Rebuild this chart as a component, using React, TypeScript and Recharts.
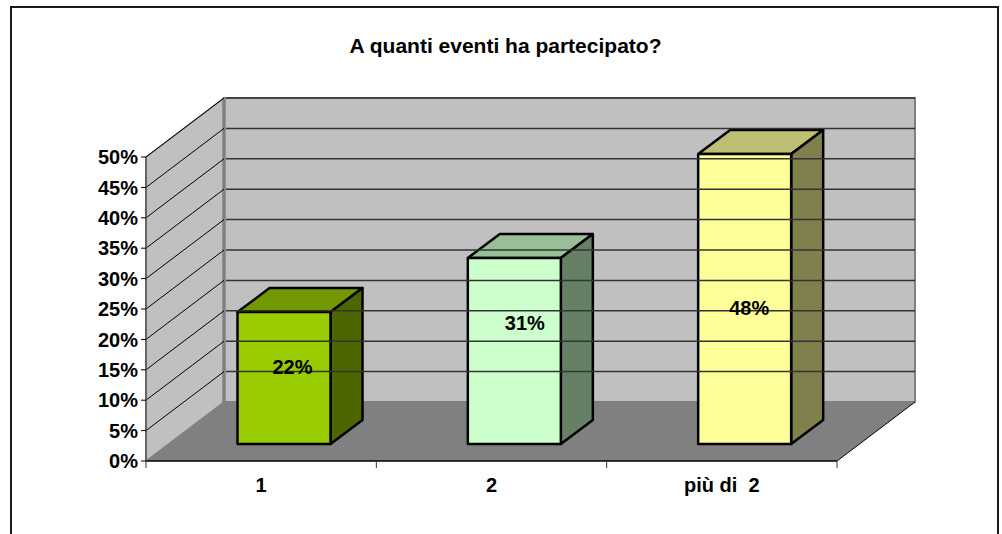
import { Bar, BarChart, LabelList, ReferenceArea, ReferenceLine, XAxis, YAxis } from 'recharts';

const categories = ['1', '2', 'più di  2'];
const shares = [21.7, 30.6, 47.7];
const yTicks = [0, 5, 10, 15, 20, 25, 30, 35, 40, 45, 50];

const FONT = '"Liberation Sans", Arial, sans-serif';
const WIDTH = 1002;
const HEIGHT = 534;

// chart plot box, the back wall sits up and to the right of it
const DEPTH_X = 78;
const DEPTH_Y = 59;
const BAND = 691 / categories.length;

// the bar stands halfway into the floor
const BAR_SHIFT_X = 22.5;
const BAR_SHIFT_Y = -17;
const BAR_DEPTH_X = 32;
const BAR_DEPTH_Y = 24;

const barColors = [
	{ front: '#99CC00', top: '#739900', side: '#4D6600' },
	{ front: '#CCFFCC', top: '#99BF99', side: '#668066' },
	{ front: '#FFFF99', top: '#BFBF73', side: '#80804D' },
];

// the labels were moved by hand in the original
const labelNudges = [
	{ dx: 31, dy: -28 },
	{ dx: 33, dy: -45 },
	{ dx: 27, dy: -8 },
];

const data = categories.map((name, i) => ({ name, share: shares[i] }));

const poly = (pts: number[][]) => pts.map((p) => p.join(',')).join(' ');

const Walls = ({ x, y, width, height }: any) => {
	const bottom = y + height;
	const right = x + width;
	return (
		<g>
			<polygon
				points={poly([
					[x, y],
					[x + DEPTH_X, y - DEPTH_Y],
					[x + DEPTH_X, bottom - DEPTH_Y],
					[x, bottom],
				])}
				fill="#C0C0C0"
				stroke="#808080"
				strokeWidth={1.5}
			/>
			<rect
				x={x + DEPTH_X}
				y={y - DEPTH_Y}
				width={width}
				height={height}
				fill="#C0C0C0"
				stroke="#808080"
				strokeWidth={2}
			/>
			<line
				x1={x + DEPTH_X}
				y1={y - DEPTH_Y}
				x2={x + DEPTH_X}
				y2={bottom - DEPTH_Y}
				stroke="#808080"
				strokeWidth={3.5}
			/>
			<polygon
				points={poly([
					[x, bottom],
					[x + DEPTH_X, bottom - DEPTH_Y],
					[right + DEPTH_X, bottom - DEPTH_Y],
					[right, bottom],
				])}
				fill="#808080"
			/>
			<line x1={right} y1={bottom} x2={right + DEPTH_X} y2={bottom - DEPTH_Y} stroke="#000" />
		</g>
	);
};

const WallGridLine = ({ x1, y1, x2, y2 }: any) => (
	<g>
		<line x1={x1} y1={y1} x2={x1 + DEPTH_X} y2={y1 - DEPTH_Y} stroke="#000" />
		<line x1={x1 + DEPTH_X + 2} y1={y1 - DEPTH_Y} x2={x2 + DEPTH_X} y2={y2 - DEPTH_Y} stroke="#333" strokeWidth={1.5} />
	</g>
);

const BoxBar = ({ x, y, width, height, index }: any) => {
	const left = x + BAR_SHIFT_X;
	const top = y + BAR_SHIFT_Y;
	const right = left + width;
	const bottom = top + height;
	const c = barColors[index];
	return (
		<g stroke="#000" strokeWidth={2.5} strokeLinejoin="round">
			<polygon
				points={poly([
					[left, top],
					[left + BAR_DEPTH_X, top - BAR_DEPTH_Y],
					[right + BAR_DEPTH_X, top - BAR_DEPTH_Y],
					[right, top],
				])}
				fill={c.top}
			/>
			<polygon
				points={poly([
					[right, top],
					[right + BAR_DEPTH_X, top - BAR_DEPTH_Y],
					[right + BAR_DEPTH_X, bottom - BAR_DEPTH_Y],
					[right, bottom],
				])}
				fill={c.side}
			/>
			<rect x={left} y={top} width={width} height={height} fill={c.front} />
		</g>
	);
};

const BarLabel = ({ x, y, width, height, value, index }: any) => (
	<text
		x={x + width / 2 + labelNudges[index].dx}
		y={y + height / 2 + labelNudges[index].dy}
		textAnchor="middle"
		dominantBaseline="central"
		fontFamily={FONT}
		fontWeight={700}
		fontSize={20}
		fill="#000"
	>
		{Math.round(value)}%
	</text>
);

const CategoryTick = ({ x, y, index }: any) => (
	<g>
		<line x1={x - BAND / 2} y1={y - 8} x2={x - BAND / 2} y2={y - 1} stroke="#333" />
		{index === categories.length - 1 && <line x1={x + BAND / 2} y1={y - 8} x2={x + BAND / 2} y2={y - 1} stroke="#333" />}
		<text x={x} y={y + 23} textAnchor="middle" fontFamily={FONT} fontWeight={700} fontSize={20} fill="#000" style={{ whiteSpace: 'pre' }}>
			{categories[index]}
		</text>
	</g>
);

export default function App() {
	return (
		<div style={{ position: 'absolute', left: 0, top: 0, width: WIDTH, height: HEIGHT, overflow: 'hidden', background: '#fff' }}>
			<div
				style={{
					position: 'absolute',
					left: 10,
					top: 6,
					width: 985,
					height: 600,
					border: '2px solid #1a1a1a',
				}}
			/>
			<div
				style={{
					position: 'absolute',
					left: 0,
					width: 1011,
					top: 36,
					textAlign: 'center',
					fontFamily: FONT,
					fontWeight: 700,
					fontSize: 21,
					lineHeight: '20px',
				}}
			>
				A quanti eventi ha partecipato?
			</div>
			<div style={{ position: 'absolute', left: 0, top: 0 }}>
				<BarChart
					width={WIDTH}
					height={HEIGHT}
					data={data}
					margin={{ left: 46, right: 165, top: 157, bottom: 33 }}
					barSize={93}
				>
					<XAxis
						dataKey="name"
						height={40}
						axisLine={{ stroke: '#000', strokeWidth: 1.5 }}
						tickLine={false}
						interval={0}
						tick={<CategoryTick />}
					/>
					<YAxis
						width={100}
						domain={[0, 50]}
						ticks={yTicks}
						interval={0}
						tickFormatter={(v) => `${v}%`}
						axisLine={{ stroke: '#555', strokeWidth: 1.5 }}
						tickLine={{ stroke: '#000' }}
						tickSize={5}
						tickMargin={3}
						tick={{ fill: '#000', fontFamily: FONT, fontWeight: 700, fontSize: 20 }}
					/>
					<ReferenceArea y1={0} y2={50} shape={<Walls />} />
					{yTicks.slice(1).map((t) => (
						<ReferenceLine key={t} y={t} shape={<WallGridLine />} />
					))}
					<Bar dataKey="share" isAnimationActive={false} shape={<BoxBar />}>
						<LabelList dataKey="share" content={<BarLabel />} />
					</Bar>
				</BarChart>
			</div>
		</div>
	);
}
